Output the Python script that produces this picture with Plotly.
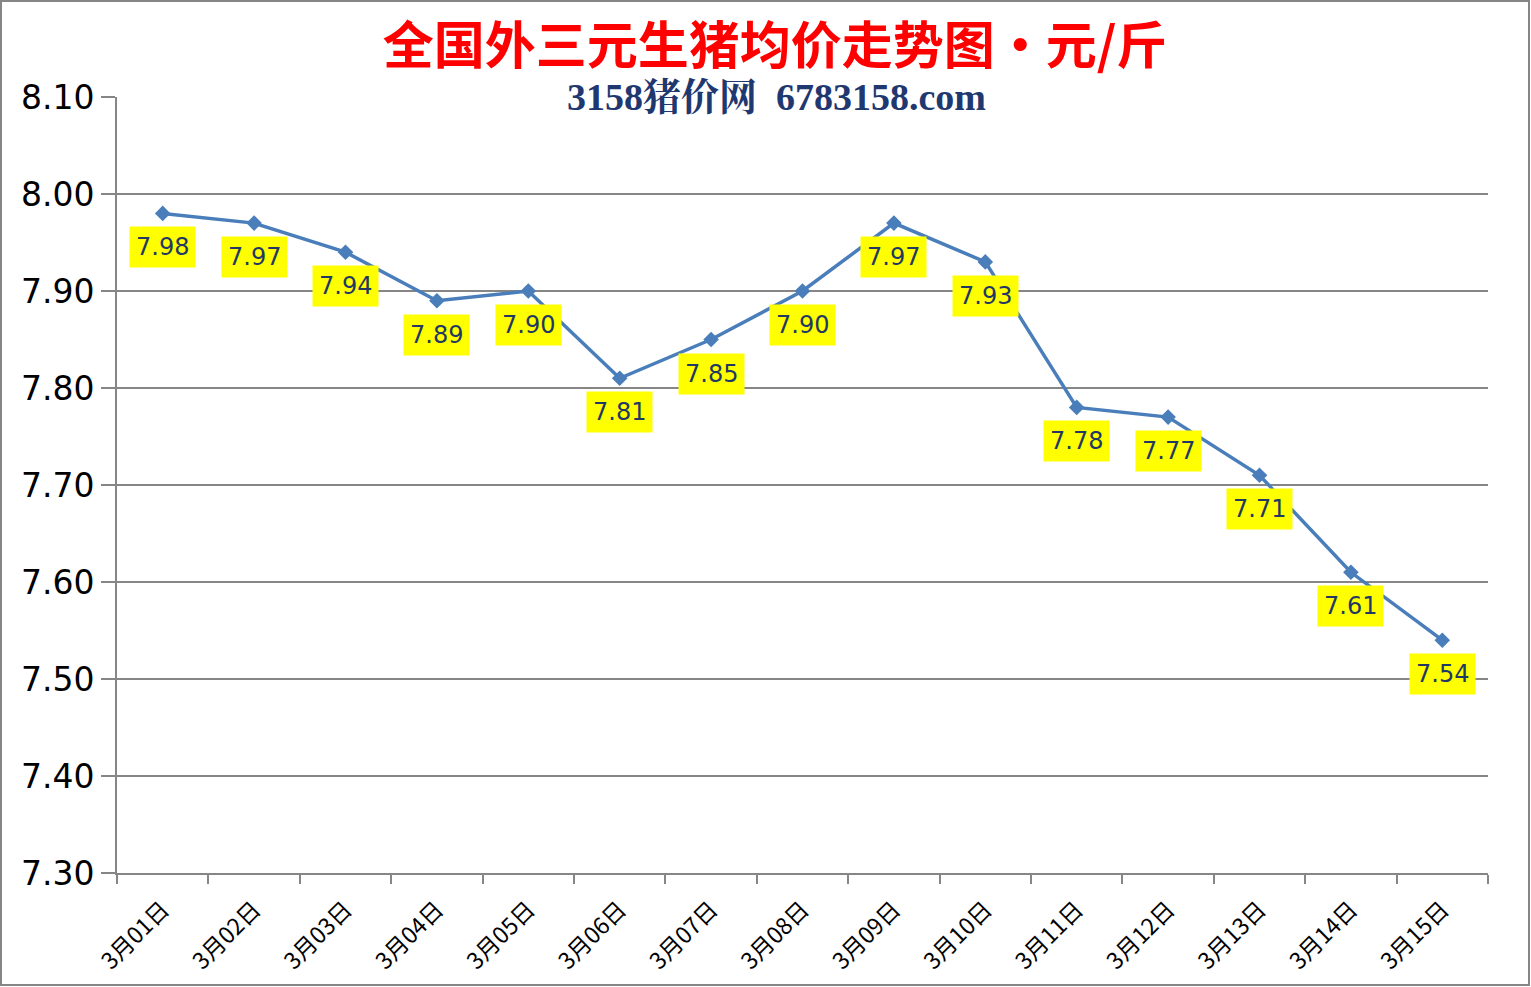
import plotly.graph_objects as go

dates = ["3月01日", "3月02日", "3月03日", "3月04日", "3月05日", "3月06日", "3月07日", "3月08日",
         "3月09日", "3月10日", "3月11日", "3月12日", "3月13日", "3月14日", "3月15日"]
prices = [7.98, 7.97, 7.94, 7.89, 7.90, 7.81, 7.85, 7.90, 7.97, 7.93, 7.78, 7.77, 7.71, 7.61, 7.54]
y_ticks = [7.30, 7.40, 7.50, 7.60, 7.70, 7.80, 7.90, 8.00, 8.10]

title_text = "全国外三元生猪均价走势图・元/斤"
subtitle_text = "3158猪价网  6783158.com"

W, H = 1531, 987
L, R, T, B = 117, 43, 97, 114
pw, ph = W - L - R, H - T - B

def px_x(p):
    return (p - L) / pw

def px_y(p):
    return (H - B - p) / ph

fig = go.Figure()
fig.add_trace(go.Scatter(
    x=dates, y=prices, mode="lines+markers",
    line=dict(color="#4A7EBB", width=3.5),
    marker=dict(symbol="diamond", size=12, color="#4A7EBB"),
    hoverinfo="x+y", showlegend=False,
))

for d, p in zip(dates, prices):
    fig.add_annotation(
        x=d, y=p, xref="x", yref="y", text=f"{p:.2f}", showarrow=False,
        yshift=-34, bgcolor="#FFFF00", borderpad=6,
        font=dict(family="DejaVu Sans", size=24, color="#1F3864"),
    )

fig.add_annotation(
    x=px_x(776), y=px_y(97), xref="paper", yref="paper", text=f"<b>{subtitle_text}</b>",
    showarrow=False, xanchor="center", yanchor="middle",
    font=dict(family="Liberation Serif, Noto Serif CJK SC, Noto Sans CJK SC", size=38, color="#1F3870"),
)

fig.update_layout(
    width=W, height=H,
    margin=dict(l=L, r=R, t=T, b=B),
    paper_bgcolor="white", plot_bgcolor="white",
    title=dict(
        text=f"<b>{title_text}</b>", x=775 / W, xanchor="center",
        y=1 - 46 / H, yanchor="middle", yref="container",
        font=dict(family="Noto Sans CJK SC", size=51, color="#FF0000"),
    ),
    xaxis=dict(
        type="category", tickson="boundaries", ticks="outside", ticklen=9, tickwidth=2,
        tickcolor="#868686", showline=True, linecolor="#868686", linewidth=2,
        showgrid=False, tickangle=-45, ticklabelstandoff=12,
        tickfont=dict(family="Noto Sans CJK SC", size=23, color="#000000"),
        range=[-0.5, len(dates) - 0.5],
    ),
    yaxis=dict(
        range=[7.30, 8.10], tickvals=y_ticks, ticktext=[f"{v:.2f}" for v in y_ticks],
        showgrid=True, gridcolor="#868686", gridwidth=2,
        ticks="outside", ticklen=14, tickwidth=2, tickcolor="#868686",
        showline=True, linecolor="#868686", linewidth=2, zeroline=False,
        tickfont=dict(family="DejaVu Sans", size=33, color="#000000"),
    ),
    shapes=[dict(
        type="rect", xref="paper", yref="paper",
        x0=px_x(1), x1=px_x(W - 2),
        y0=px_y(H - 2), y1=px_y(1),
        line=dict(color="#868686", width=2), fillcolor="rgba(0,0,0,0)", layer="below",
    )],
)

fig.write_html("out.html")
